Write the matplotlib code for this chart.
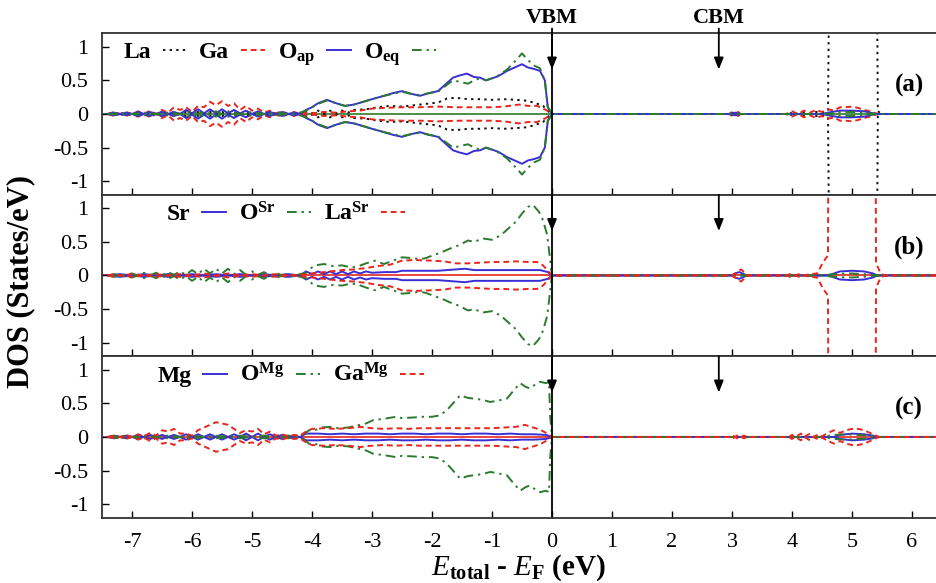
import numpy as np
import matplotlib
matplotlib.use('Agg')
import matplotlib.pyplot as plt

plt.rcParams['font.family'] = 'Liberation Serif'
plt.rcParams['mathtext.fontset'] = 'custom'
plt.rcParams['mathtext.rm'] = 'Liberation Serif:bold'
plt.rcParams['mathtext.it'] = 'Liberation Serif:italic'
plt.rcParams['mathtext.bf'] = 'Liberation Serif:bold'
plt.rcParams['axes.unicode_minus'] = False
plt.rcParams['xtick.direction'] = 'in'  # ticks inside, gnuplot look
plt.rcParams['ytick.direction'] = 'in'

# ---- data: (energy eV, DOS states/eV), spin-up half; spin-down is the mirror ----
# panel (a) pure LaGaO3
A_LA = [(-7.4,0),(-7.3,0.02),(-7.2,0),(-7.1,0.02),(-7.0,0),(-6.9,0.02),(-6.8,0),(-6.7,0.03),
        (-6.6,0),(-6.5,0.03),(-6.4,0),(-6.3,0.03),(-6.2,0),(-6.1,0.03),(-6.0,0),(-5.9,0.03),
        (-5.8,0),(-5.7,0.03),(-5.6,0),(-5.5,0.03),(-5.4,0),(-5.3,0.03),(-5.2,0),(-5.1,0.03),
        (-5.0,0),(-4.9,0.02),(-4.8,0),(-4.7,0.02),(-4.6,0),(-4.5,0.02),(-4.4,0),(-4.3,0.02),
        (-4.2,0),(-4.1,0.03),(-4.0,0.01),(-3.9,0.05),(-3.8,0.01),(-3.7,0.05),(-3.6,0.01),
        (-3.5,0.05),(-3.4,0.02),(-3.3,0.06),(-3.1,0.07),(-2.9,0.1),(-2.7,0.12),(-2.5,0.11),
        (-2.3,0.13),(-2.1,0.15),(-1.9,0.17),(-1.75,0.23),(-1.6,0.24),(-1.4,0.22),(-1.2,0.22),
        (-1.0,0.21),(-0.8,0.22),(-0.6,0.21),(-0.45,0.2),(-0.3,0.17),(-0.15,0.12),(-0.05,0.03),
        (0.0,0),(2.95,0),(3.0,0.02),(3.05,0),(3.1,0.02),(3.15,0),(3.95,0),(4.0,0.02),(4.1,0),
        (4.2,0.02),(4.3,0),(4.4,0.03),(4.5,0.02),(4.6,0.05),(4.63,3.0),(5.41,3.0),(5.43,0.04),
        (5.5,0),(6.5,0)]
A_GA = [(-7.4,0),(-7.3,0.03),(-7.2,0),(-7.1,0.03),(-7.0,0),(-6.9,0.04),(-6.8,0),(-6.7,0.05),
        (-6.6,0),(-6.5,0.06),(-6.4,0.02),(-6.3,0.1),(-6.2,0.06),(-6.1,0.1),(-6.0,0.03),
        (-5.9,0.12),(-5.8,0.1),(-5.7,0.18),(-5.6,0.13),(-5.5,0.19),(-5.4,0.12),(-5.3,0.16),
        (-5.2,0.06),(-5.1,0.12),(-5.0,0.05),(-4.9,0.08),(-4.8,0.02),(-4.7,0.05),(-4.6,0.01),
        (-4.5,0.04),(-4.4,0),(-4.3,0.03),(-4.2,0),(-4.1,0.02),(-4.0,0.01),(-3.8,0.03),
        (-3.6,0.02),(-3.4,0.04),(-3.2,0.05),(-3.0,0.08),(-2.8,0.09),(-2.5,0.1),(-2.2,0.1),
        (-1.9,0.11),(-1.6,0.1),(-1.3,0.1),(-1.0,0.1),(-0.8,0.11),(-0.55,0.14),(-0.4,0.12),
        (-0.25,0.12),(-0.1,0.06),(0.0,0),(2.95,0),(3.0,0.03),(3.05,0),(3.1,0.03),(3.15,0),
        (3.9,0),(4.0,0.04),(4.1,0),(4.2,0.05),(4.3,0.02),(4.4,0.06),(4.5,0.03),(4.6,0.07),
        (4.7,0.05),(4.8,0.1),(4.9,0.1),(5.0,0.11),(5.1,0.09),(5.2,0.06),(5.3,0.04),(5.4,0.01),
        (5.45,0),(6.5,0)]
A_OAP = [(-7.4,0),(-7.3,0.02),(-7.2,0),(-7.1,0.02),(-7.0,0),(-6.9,0.03),(-6.8,0),(-6.7,0.03),
         (-6.6,0),(-6.5,0.03),(-6.4,0),(-6.3,0.03),(-6.2,0),(-6.1,0.06),(-6.0,0.01),(-5.9,0.07),
         (-5.8,0.01),(-5.7,0.07),(-5.6,0.01),(-5.5,0.07),(-5.4,0.01),(-5.3,0.06),(-5.2,0.01),
         (-5.1,0.05),(-5.0,0),(-4.9,0.04),(-4.8,0),(-4.7,0.03),(-4.6,0),(-4.5,0.03),(-4.4,0),
         (-4.3,0.02),(-4.2,0),(-4.1,0.06),(-4.0,0.1),(-3.9,0.16),(-3.75,0.21),(-3.6,0.16),
         (-3.45,0.12),(-3.3,0.14),(-3.15,0.18),(-3.0,0.22),(-2.8,0.27),(-2.65,0.31),(-2.5,0.34),
         (-2.35,0.3),(-2.2,0.27),(-2.05,0.31),(-1.9,0.34),(-1.8,0.42),(-1.65,0.54),(-1.55,0.57),
         (-1.42,0.6),(-1.3,0.55),(-1.2,0.54),(-1.1,0.5),(-1.0,0.53),(-0.9,0.56),(-0.75,0.64),
         (-0.6,0.7),(-0.5,0.74),(-0.4,0.69),(-0.3,0.67),(-0.2,0.64),(-0.12,0.5),(-0.07,0.1),
         (0.0,0),(2.95,0),(3.05,0.02),(3.15,0),(4.5,0),(4.6,0.02),(4.8,0.05),(5.0,0.05),
         (5.2,0.04),(5.4,0),(6.5,0)]
A_OEQ = [(-7.4,0),(-7.2,0.01),(-7.0,0),(-6.8,0.02),(-6.6,0),(-6.4,0.02),(-6.2,0),(-6.0,0.04),
         (-5.9,0),(-5.8,0.04),(-5.7,0),(-5.6,0.04),(-5.5,0),(-5.4,0.04),(-5.2,0),(-5.0,0.03),
         (-4.8,0),(-4.6,0.02),(-4.4,0),(-4.2,0.02),(-4.1,0.05),(-4.0,0.1),(-3.9,0.15),
         (-3.75,0.2),(-3.6,0.16),(-3.45,0.12),(-3.3,0.14),(-3.15,0.18),(-3.0,0.22),(-2.8,0.27),
         (-2.65,0.3),(-2.5,0.33),(-2.35,0.3),(-2.2,0.28),(-2.05,0.31),(-1.9,0.33),(-1.8,0.4),
         (-1.65,0.5),(-1.5,0.47),(-1.4,0.45),(-1.3,0.5),(-1.2,0.53),(-1.1,0.5),(-1.0,0.53),
         (-0.9,0.57),(-0.75,0.66),(-0.6,0.8),(-0.5,0.9),(-0.4,0.8),(-0.3,0.72),(-0.2,0.68),
         (-0.12,0.5),(-0.07,0.1),(0.0,0),(4.6,0),(4.8,0.03),(5.0,0.03),(5.2,0.02),(5.4,0),(6.5,0)]

# panel (b) Sr on La site
B_SR = [(-7.4,0),(-7.2,0.02),(-7.0,0),(-6.8,0.02),(-6.6,0),(-6.4,0.02),(-6.2,0),(-6.0,0.02),
        (-5.8,0),(-5.6,0.02),(-5.4,0),(-5.2,0.02),(-5.0,0),(-4.8,0.02),(-4.6,0),(-4.4,0.02),
        (-4.2,0),(-4.1,0.06),(-4.0,0.02),(-3.9,0.06),(-3.8,0.02),(-3.7,0.06),(-3.6,0.02),
        (-3.5,0.06),(-3.4,0.02),(-3.3,0.06),(-3.2,0.03),(-3.1,0.06),(-3.0,0.04),(-2.8,0.05),
        (-2.6,0.05),(-2.5,0.07),(-2.2,0.07),(-1.9,0.07),(-1.6,0.09),(-1.45,0.1),(-1.3,0.08),
        (-1.0,0.08),(-0.7,0.08),(-0.4,0.08),(-0.2,0.08),(-0.07,0.05),(0.0,0),(3.0,0),(3.05,0.03),
        (3.12,0.05),(3.2,0.02),(3.25,0),(4.6,0),(4.7,0.03),(4.8,0.06),(5.0,0.07),(5.2,0.06),
        (5.35,0.03),(5.42,0),(6.5,0)]
B_OSR = [(-7.4,0),(-7.3,0.02),(-7.2,0),(-7.0,0.03),(-6.9,0),(-6.8,0.04),(-6.7,0),(-6.6,0.04),
         (-6.5,0),(-6.4,0.05),(-6.3,0.01),(-6.2,0.06),(-6.1,0.01),(-6.0,0.08),(-5.9,0.02),
         (-5.8,0.1),(-5.7,0.03),(-5.6,0.1),(-5.5,0.03),(-5.4,0.1),(-5.3,0.02),(-5.2,0.08),
         (-5.1,0.01),(-5.0,0.06),(-4.9,0.01),(-4.8,0.05),(-4.7,0),(-4.6,0.04),(-4.5,0),
         (-4.4,0.03),(-4.3,0),(-4.2,0.02),(-4.1,0.04),(-4.0,0.12),(-3.95,0.15),(-3.8,0.17),
         (-3.65,0.14),(-3.5,0.15),(-3.35,0.12),(-3.25,0.13),(-3.1,0.18),(-2.95,0.22),
         (-2.8,0.17),(-2.65,0.22),(-2.5,0.27),(-2.35,0.26),(-2.2,0.24),(-2.1,0.26),(-1.95,0.31),
         (-1.8,0.36),(-1.7,0.4),(-1.55,0.45),(-1.4,0.52),(-1.3,0.5),(-1.15,0.55),(-1.0,0.53),
         (-0.85,0.6),(-0.7,0.72),(-0.6,0.8),(-0.5,0.92),(-0.4,1.02),(-0.32,1.05),(-0.22,0.95),
         (-0.15,0.82),(-0.08,0.6),(-0.04,0.3),(0.0,0),(4.5,0),(4.7,0.02),(4.9,0.03),(5.0,0.03),
         (5.2,0.02),(5.4,0),(6.5,0)]
B_LASR = [(-7.4,0),(-7.3,0.02),(-7.2,0),(-7.0,0.02),(-6.8,0),(-6.6,0.02),(-6.4,0),(-6.2,0.02),
          (-6.0,0),(-5.8,0.03),(-5.6,0),(-5.4,0.03),(-5.2,0),(-5.0,0.02),(-4.8,0),(-4.6,0.02),
          (-4.4,0),(-4.2,0.01),(-4.1,0.02),(-3.8,0.05),(-3.5,0.08),(-3.3,0.09),(-3.1,0.11),
          (-2.9,0.14),(-2.7,0.16),(-2.5,0.22),(-2.3,0.23),(-2.0,0.22),(-1.8,0.21),(-1.6,0.18),
          (-1.4,0.18),(-1.2,0.19),(-1.0,0.2),(-0.8,0.2),(-0.6,0.21),(-0.4,0.2),(-0.25,0.2),
          (-0.15,0.15),(-0.05,0.05),(0.0,0),(3.0,0),(3.05,0.03),(3.1,0.06),(3.15,0.09),
          (3.2,0.05),(3.25,0),(3.9,0),(4.0,0.03),(4.05,0),(4.15,0.03),(4.2,0),(4.3,0.02),
          (4.42,0.03),(4.52,0.2),(4.6,0.3),(4.61,3.0),(5.39,3.0),(5.4,0.18),(5.48,0.03),
          (5.55,0),(6.5,0)]

# panel (c) Mg on Ga site
C_MG = [(-7.4,0),(-7.3,0.02),(-7.2,0),(-7.1,0.02),(-7.0,0),(-6.9,0.03),(-6.8,0),(-6.7,0.03),
        (-6.6,0),(-6.5,0.03),(-6.4,0),(-6.3,0.03),(-6.2,0),(-6.1,0.04),(-6.0,0),(-5.9,0.04),
        (-5.8,0),(-5.7,0.04),(-5.6,0),(-5.5,0.04),(-5.4,0),(-5.3,0.04),(-5.2,0),(-5.1,0.05),
        (-5.0,0),(-4.9,0.05),(-4.8,0),(-4.7,0.04),(-4.6,0),(-4.5,0.03),(-4.4,0),(-4.3,0.02),
        (-4.2,0),(-4.1,0.05),(-3.9,0.05),(-3.7,0.04),(-3.5,0.05),(-3.3,0.04),(-3.1,0.05),
        (-2.9,0.05),(-2.7,0.04),(-2.5,0.05),(-2.3,0.05),(-2.1,0.04),(-1.9,0.05),(-1.7,0.05),
        (-1.5,0.04),(-1.3,0.05),(-1.1,0.05),(-0.9,0.04),(-0.7,0.05),(-0.5,0.04),(-0.3,0.04),
        (-0.1,0.03),(0.0,0),(4.7,0),(4.8,0.03),(4.9,0.04),(5.0,0.05),(5.2,0.04),(5.35,0.02),
        (5.4,0),(6.5,0)]
C_OMG = [(-7.4,0),(-7.2,0.02),(-7.0,0),(-6.8,0.02),(-6.6,0),(-6.4,0.02),(-6.2,0),(-6.0,0.02),
         (-5.8,0),(-5.6,0.02),(-5.4,0),(-5.2,0.02),(-5.0,0),(-4.8,0.02),(-4.6,0),(-4.4,0.02),
         (-4.2,0),(-4.12,0.05),(-4.05,0.1),(-3.95,0.1),(-3.85,0.14),(-3.7,0.15),(-3.55,0.13),
         (-3.4,0.14),(-3.25,0.17),(-3.1,0.2),(-2.98,0.25),(-2.8,0.27),(-2.6,0.3),(-2.5,0.28),
         (-2.3,0.29),(-2.15,0.3),(-2.0,0.3),(-1.87,0.32),(-1.75,0.4),(-1.6,0.55),(-1.53,0.62),
         (-1.4,0.58),(-1.3,0.57),(-1.15,0.55),(-1.03,0.52),(-0.9,0.54),(-0.75,0.57),
         (-0.65,0.68),(-0.53,0.8),(-0.45,0.75),(-0.37,0.72),(-0.28,0.78),(-0.2,0.82),
         (-0.1,0.8),(-0.05,0.82),(-0.03,0.3),(0.0,0),(4.5,0),(4.7,0.03),(4.9,0.04),(5.1,0.03),
         (5.3,0.02),(5.4,0),(6.5,0)]
C_GAMG = [(-7.4,0),(-7.3,0.02),(-7.2,0),(-7.1,0.03),(-7.0,0),(-6.9,0.04),(-6.8,0.01),
          (-6.7,0.06),(-6.6,0.02),(-6.5,0.1),(-6.4,0.08),(-6.3,0.12),(-6.2,0.05),(-6.1,0.05),
          (-6.0,0.02),(-5.9,0.1),(-5.8,0.14),(-5.7,0.18),(-5.6,0.22),(-5.5,0.2),(-5.4,0.18),
          (-5.3,0.12),(-5.2,0.06),(-5.1,0.1),(-5.0,0.08),(-4.9,0.12),(-4.8,0.04),(-4.7,0.08),
          (-4.6,0.02),(-4.5,0.04),(-4.4,0.01),(-4.3,0.03),(-4.2,0.02),(-4.1,0.08),(-4.0,0.12),
          (-3.8,0.13),(-3.6,0.12),(-3.4,0.13),(-3.2,0.15),(-3.0,0.13),(-2.8,0.12),(-2.6,0.13),
          (-2.4,0.12),(-2.2,0.13),(-2.0,0.13),(-1.8,0.13),(-1.6,0.13),(-1.4,0.13),(-1.2,0.13),
          (-1.0,0.13),(-0.8,0.14),(-0.6,0.15),(-0.45,0.18),(-0.35,0.15),(-0.2,0.11),(-0.1,0.06),
          (0.0,0),(2.95,0),(3.0,0.03),(3.05,0),(3.1,0.03),(3.15,0),(3.2,0.02),(3.25,0),(3.95,0),
          (4.0,0.03),(4.05,0),(4.15,0.05),(4.2,0),(4.3,0.05),(4.35,0),(4.45,0.04),(4.5,0.01),
          (4.6,0.06),(4.7,0.1),(4.8,0.06),(4.9,0.1),(5.0,0.12),(5.1,0.12),(5.2,0.1),(5.3,0.06),
          (5.4,0.02),(5.45,0),(6.5,0)]

X_TICKS = list(range(-7, 7))
Y_TICKS = [-1, -0.5, 0, 0.5, 1]
Y_TICKLABELS = ['-1', '-0.5', '0', '0.5', '1']
E_VBM = 0.0
E_CBM = 2.78

RED = '#e8261c'
BLUE = '#3a2fd6'
GREEN = '#2b7a2e'
BLACK = '#111111'
st_dot = dict(color=BLACK, ls=(0, (1.2, 2.2)), lw=1.4)
st_dash = dict(color=RED, ls=(0, (3, 2)), lw=1.4)
st_solid = dict(color=BLUE, ls='-', lw=1.4)
st_dashdot = dict(color=GREEN, ls=(0, (5, 2.5, 1.2, 2.5)), lw=1.4)

PANELS = [
    ('(a)', [('La', A_LA, st_dot), ('Ga', A_GA, st_dash),
             (r'O$_{\mathbf{ap}}$', A_OAP, st_solid), (r'O$_{\mathbf{eq}}$', A_OEQ, st_dashdot)],
     GREEN, 0.0),
    ('(b)', [('Sr', B_SR, st_solid), (r'O$^{\mathbf{Sr}}$', B_OSR, st_dashdot),
             (r'La$^{\mathbf{Sr}}$', B_LASR, st_dash)], RED, 0.052),
    ('(c)', [('Mg', C_MG, st_solid), (r'O$^{\mathbf{Mg}}$', C_OMG, st_dashdot),
             (r'Ga$^{\mathbf{Mg}}$', C_GAMG, st_dash)], RED, 0.041),
]


def draw_dos(ax, pts, label, style):
    e, d = np.array(pts).T
    ax.plot(e, d, label=label, **style)
    ax.plot(e, -d, **style)  # spin down, mirrored


fig = plt.figure(figsize=(9.36, 5.83), dpi=100)
gs = fig.add_gridspec(3, 1, left=0.109, right=1.0, top=0.943, bottom=0.112, hspace=0)
axes = [fig.add_subplot(gs[i]) for i in range(3)]

for i, (ax, (tag, series, zero_col, leg_x)) in enumerate(zip(axes, PANELS)):
    for label, pts, style in series:
        draw_dos(ax, pts, label, style)
    ax.axhline(0, color=zero_col, lw=1.2, zorder=1)
    ax.axvline(E_VBM, color='k', lw=1.3)
    top = 1.27 if i == 0 else 1.2
    for e0 in (E_VBM, E_CBM):
        ax.annotate('', xy=(e0, 0.66), xytext=(e0, top), annotation_clip=False,
                    arrowprops=dict(arrowstyle='-|>,head_length=0.7,head_width=0.28',
                                    color='k', lw=1.3, shrinkA=0, shrinkB=0))
    ax.set_xlim(-7.5, 6.4)
    ax.set_ylim(-1.2, 1.2)
    ax.set_xticks(X_TICKS)
    ax.set_yticks(Y_TICKS)
    ax.set_yticklabels(Y_TICKLABELS)
    ax.tick_params(labelsize=16, length=5, width=1)
    ax.tick_params(axis='y', pad=10)
    ax.tick_params(axis='x', pad=11)
    ax.spines['right'].set_visible(False)
    for s in ('left', 'top', 'bottom'):
        ax.spines[s].set_linewidth(1.3)
        ax.spines[s].set_color('#333333')
    ax.text(5.95, 0.42, tag, fontsize=18, fontweight='bold', ha='center', va='center')
    ax.legend(loc='upper left', bbox_to_anchor=(leg_x, 1.085), ncol=len(series),
              frameon=False, markerfirst=False, handlelength=1.0, handletextpad=0.5,
              columnspacing=0.55, prop=dict(size=17, weight='bold'))
    if i < 2:
        ax.tick_params(labelbottom=False)

axes[0].text(E_VBM, 1.28, 'VBM', fontsize=16, fontweight='bold', ha='center', va='bottom')
axes[0].text(E_CBM, 1.28, 'CBM', fontsize=16, fontweight='bold', ha='center', va='bottom')
axes[2].set_xlabel(r'$E_{\mathbf{total}}$ - $E_{\mathbf{F}}$ (eV)', fontsize=21,
                   fontweight='bold', labelpad=0)
fig.text(0.022, 0.518, 'DOS (States/eV)', rotation=90, fontsize=22, fontweight='bold',
         ha='center', va='center')

fig.savefig('out.png', dpi=100)
